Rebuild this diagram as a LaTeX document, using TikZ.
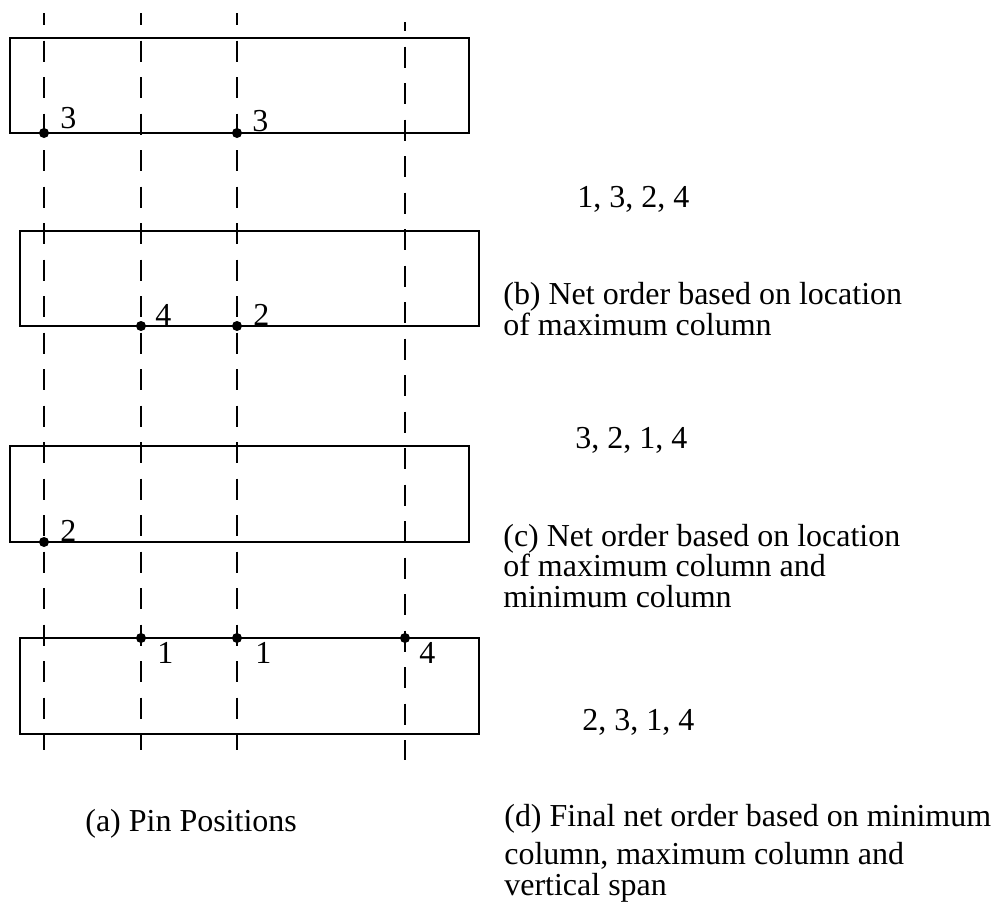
\documentclass[tikz,border=0pt]{standalone}
\usepackage{fontspec}
\setmainfont{Liberation Serif}
\begin{document}
\begin{tikzpicture}[x=0.2mm,y=-0.2mm,
    every node/.style={inner sep=0pt,anchor=base west,font=\fontsize{18.2}{17.1}\selectfont},
    channel/.style={line width=1.1pt},
    colline/.style={line width=1.3pt,dash pattern=on 4.2mm off 3.1mm},
    pindot/.style={fill=black}]
  \useasboundingbox (0,0) rectangle (995,903);

  % column lines
  \begin{scope}[colline]
    \draw[dash phase=1.8mm] (44,13) -- (44,750);
    \draw[dash phase=1.8mm] (141,13) -- (141,750);
    \draw[dash phase=1.8mm] (237,13) -- (237,750);
    \draw[dash phase=2.4mm] (405,22) -- (405,760);
  \end{scope}

  % the four channels
  \draw[channel] (10,38) rectangle (469,133);
  \draw[channel] (20,231) rectangle (479,326);
  \draw[channel] (10,446) rectangle (469,542);
  \draw[channel] (20,638) rectangle (479,734);

  % pins on the channel edges
  \fill[pindot] (44,133) circle (1mm);
  \fill[pindot] (237,133) circle (1mm);
  \node (pa1) at (60,128) {3};
  \node (pa2) at (252,131) {3};

  \fill[pindot] (141,326) circle (1mm);
  \fill[pindot] (237,326) circle (1mm);
  \node (pb1) at (155,325) {4};
  \node (pb2) at (253,325) {2};

  \fill[pindot] (44,542) circle (1mm);
  \node (pc1) at (60,541) {2};

  \fill[pindot] (141,638) circle (1mm);
  \fill[pindot] (237,638) circle (1mm);
  \fill[pindot] (405,638) circle (1mm);
  \node (pd1) at (157,663) {1};
  \node (pd2) at (255,663) {1};
  \node (pd3) at (419,663) {4};

  % net orders and captions (base = last line)
  \node (ordb) at (577,207) {1, 3, 2, 4};
  \node[align=left] (capb) at (503,335) {(b) Net order based on location\\of maximum column};

  \node (ordc) at (575,448) {3, 2, 1, 4};
  \node[align=left] (capc) at (503,607) {(c) Net order based on location\\of maximum column and\\minimum column};

  \node (ordd) at (582,730) {2, 3, 1, 4};

  \node (capa) at (85,831) {(a) Pin Positions};
  \node[align=left] (capd) at (504,895) {(d) Final net order based on minimum\\[4.5pt]column, maximum column and\\vertical span};
\end{tikzpicture}
\end{document}
